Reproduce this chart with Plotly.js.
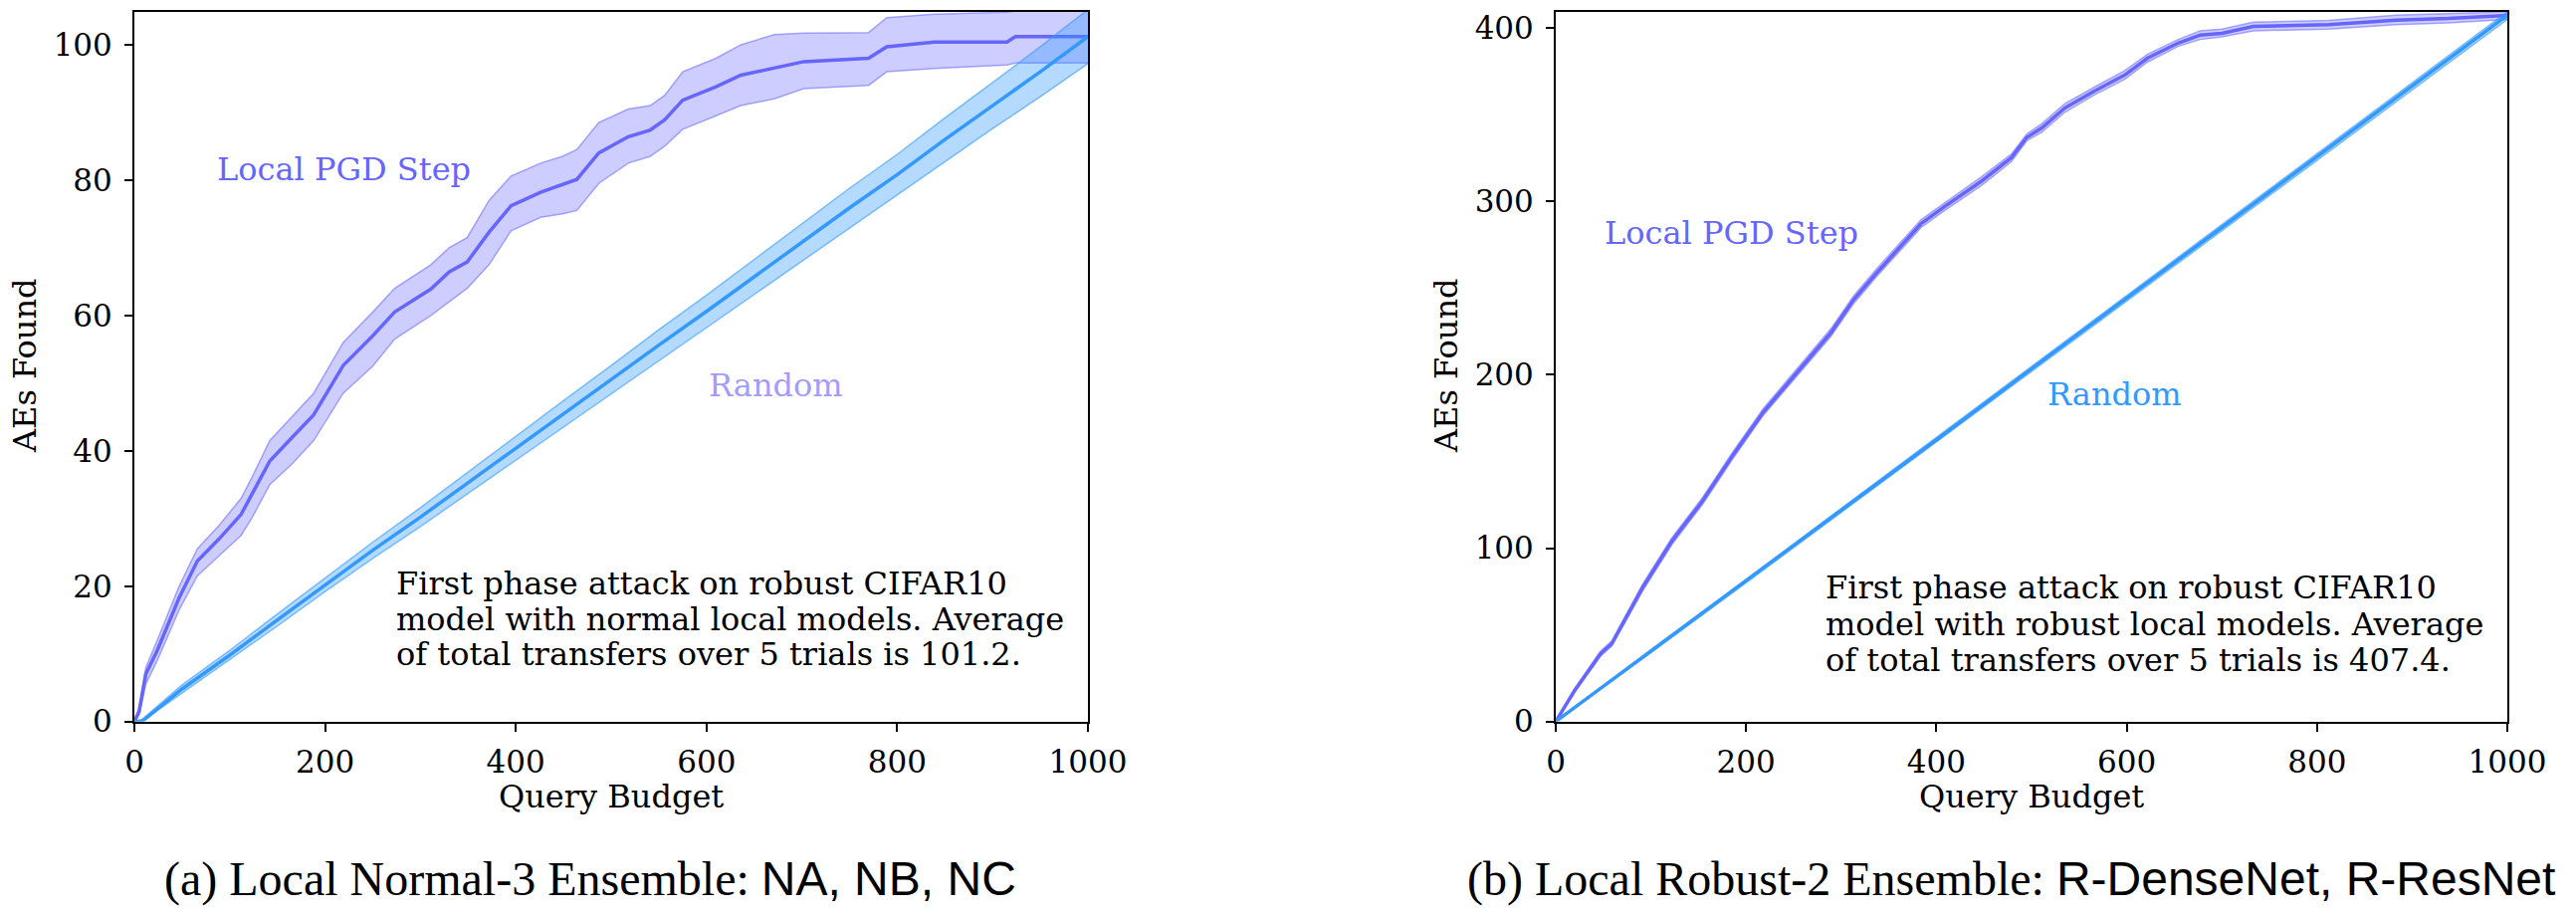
<!DOCTYPE html>
<html>
<head>
<meta charset="utf-8">
<script src="https://cdn.plot.ly/plotly-3.0.1.min.js"></script>
<style>
  html, body { margin: 0; padding: 0; background: #ffffff; }
  #chart { width: 2588px; height: 920px; }
</style>
</head>
<body>
<div id="chart"></div>
<script>
// ---------- Panel (a): Local Normal-3 Ensemble ----------
const pgdA_x     = [0, 5, 12, 24, 47, 66, 89, 112, 123, 142, 165, 188, 219, 250, 273, 311, 330, 349, 372, 395, 426, 449, 464, 487, 518, 541, 556, 575, 610, 636, 671, 702, 770, 789, 839, 915, 924, 1000];
const pgdA_mean  = [0, 1.5, 7, 10.5, 18.3, 23.7, 27, 30.6, 33.5, 38.5, 41.9, 45.3, 52.6, 57, 60.5, 63.9, 66.4, 67.9, 72.3, 76.2, 78.2, 79.4, 80.1, 84, 86.4, 87.4, 88.9, 91.8, 93.8, 95.5, 96.5, 97.5, 98, 99.7, 100.4, 100.4, 101.2, 101.2];
const pgdA_upper = [0, 2, 8, 12, 20, 25.5, 29, 33, 36, 41.5, 45, 48.5, 56, 60.5, 64, 67.5, 70, 71.5, 77, 80.6, 82.5, 83.5, 84.5, 88.5, 90.5, 91, 92.5, 96, 98, 100, 101.5, 101.7, 101.8, 104, 104.5, 104.8, 105, 105];
const pgdA_lower = [0, 1, 5.5, 9, 16.5, 21.5, 24.5, 27.5, 30, 35, 38, 41.5, 48.5, 52.5, 56.5, 60, 62, 64, 67.5, 72.5, 74.5, 75, 75.5, 79.5, 82.5, 83.5, 85, 87.5, 89.5, 91, 92, 93.5, 94, 96, 96.5, 97, 97.3, 97.3];

const rndA_x     = [0, 8, 50, 100, 150, 200, 250, 300, 350, 400, 450, 500, 550, 600, 650, 700, 750, 800, 850, 900, 950, 1000];
const rndA_mean  = [0, 0, 4.8, 9.8, 15, 20.2, 25.3, 30.2, 35.3, 40.4, 45.5, 50.5, 55.6, 60.6, 65.7, 70.8, 75.9, 80.8, 86, 91, 96, 101.2];
const rndA_upper = [0, 0.3, 5.4, 10.5, 15.9, 21.2, 26.5, 31.6, 36.9, 42.2, 47.4, 52.6, 57.9, 63, 68.3, 73.5, 78.8, 83.8, 89.2, 94.4, 99.7, 105.2];
const rndA_lower = [0, 0, 4.2, 9.1, 14.1, 19.2, 24.1, 28.8, 33.7, 38.6, 43.6, 48.4, 53.3, 58.2, 63.1, 68.1, 73, 77.8, 82.8, 87.6, 92.3, 97.2];

// ---------- Panel (b): Local Robust-2 Ensemble ----------
const pgdB_x     = [0, 20, 47, 59, 91, 122, 154, 186, 218, 262, 289, 313, 337, 384, 408, 448, 479, 495, 511, 535, 566, 598, 622, 654, 677, 700, 733, 812, 883, 938, 1000];
const pgdB_mean  = [0, 18, 39, 45, 77, 104, 127, 153.5, 178.4, 207, 224.2, 243.3, 258.6, 287.3, 296.8, 312, 325.4, 337, 342.6, 354, 363.7, 373, 382.8, 391.4, 396, 397, 401, 402, 404.7, 405.6, 407.4];
const pgdB_upper = [0, 19, 40.5, 46.5, 79, 106, 129, 155.5, 180.5, 209, 226.5, 245.5, 261, 289.5, 299, 314.5, 327.5, 339, 345, 356.5, 366, 375.5, 385, 393.5, 398.5, 399.5, 403.5, 404.5, 407.5, 408.5, 409.5];
const pgdB_lower = [0, 17, 37.5, 43.5, 75, 102, 125, 151.5, 176.5, 205, 222, 241, 256.5, 285, 294.5, 309.5, 323, 335, 340, 351.5, 361.5, 370.5, 380.5, 389.5, 393.5, 395, 398.5, 399.5, 402, 403, 405];

const rndB_x     = [0, 100, 200, 300, 400, 500, 600, 700, 800, 900, 1000];
const rndB_mean  = [0, 40.5, 81, 121.8, 162.5, 203.5, 244.3, 285, 325.9, 366.6, 407.4];
const rndB_upper = [0, 41.3, 82, 123, 164, 205, 246, 287, 328, 369, 409.5];
const rndB_lower = [0, 39.6, 80, 120.6, 161, 202, 242.6, 283, 323.8, 364.3, 405];

// ---------- Texts ----------
const xTickVals = [0, 200, 400, 600, 800, 1000];
const yTickValsA = [0, 20, 40, 60, 80, 100];
const yTickValsB = [0, 100, 200, 300, 400];
const xLabel = "Query Budget";
const yLabel = "AEs Found";
const pgdName = "Local PGD Step";
const rndName = "Random";
const noteA = ["First phase attack on robust CIFAR10", "model with normal local models. Average", "of total transfers over 5 trials is 101.2."];
const noteB = ["First phase attack on robust CIFAR10", "model with robust local models. Average", "of total transfers over 5 trials is 407.4."];
const captionA = ["(a) Local Normal-3 Ensemble: ", "NA, NB, NC"];
const captionB = ["(b) Local Robust-2 Ensemble: ", "R-DenseNet, R-ResNet"];

// ---------- Styles ----------
const PGD = "#6666ff", PGD_FILL = "rgba(102,102,255,0.33)", PGD_EDGE = "rgba(102,102,255,0.55)";
const RND = "#3399ff", RND_FILL = "rgba(51,153,255,0.36)", RND_EDGE = "rgba(51,153,255,0.6)";
const SERIF = "DejaVu Serif";

function band(x, lo, hi, fill, edge, xa, ya) {
  return [
    {x: x, y: lo, xaxis: xa, yaxis: ya, type: "scatter", mode: "lines",
     line: {color: edge, width: 1.5}, hoverinfo: "skip", showlegend: false},
    {x: x, y: hi, xaxis: xa, yaxis: ya, type: "scatter", mode: "lines",
     fill: "tonexty", fillcolor: fill,
     line: {color: edge, width: 1.5}, hoverinfo: "skip", showlegend: false}
  ];
}
function meanLine(x, y, color, xa, ya, name) {
  return {x: x, y: y, xaxis: xa, yaxis: ya, type: "scatter", mode: "lines",
          name: name, line: {color: color, width: 3.5}, showlegend: false};
}

const traces = [].concat(
  band(pgdA_x, pgdA_lower, pgdA_upper, PGD_FILL, PGD_EDGE, "x", "y"),
  [meanLine(pgdA_x, pgdA_mean, PGD, "x", "y", pgdName)],
  band(rndA_x, rndA_lower, rndA_upper, RND_FILL, RND_EDGE, "x", "y"),
  [meanLine(rndA_x, rndA_mean, RND, "x", "y", rndName)],
  band(pgdB_x, pgdB_lower, pgdB_upper, PGD_FILL, PGD_EDGE, "x2", "y2"),
  [meanLine(pgdB_x, pgdB_mean, PGD, "x2", "y2", pgdName)],
  band(rndB_x, rndB_lower, rndB_upper, RND_FILL, RND_EDGE, "x2", "y2"),
  [meanLine(rndB_x, rndB_mean, RND, "x2", "y2", rndName)]
);

const W = 2588, H = 920;
const yDom = [1 - 724.6 / H, 1 - 11.6 / H];

function xAxis(domain, anchor) {
  return {domain: domain, anchor: anchor, range: [0, 1000], tickmode: "array", tickvals: xTickVals,
          ticks: "outside", ticklen: 8, tickwidth: 2, tickcolor: "#000",
          showline: true, linewidth: 2, linecolor: "#000", mirror: true,
          showgrid: false, zeroline: false, ticklabelstandoff: 4,
          tickfont: {family: SERIF, size: 31, color: "#000"}};
}
function yAxis(range, tickvals, anchor) {
  return {domain: yDom, anchor: anchor, range: range, tickmode: "array", tickvals: tickvals,
          ticks: "outside", ticklen: 8, tickwidth: 2, tickcolor: "#000",
          showline: true, linewidth: 2, linecolor: "#000", mirror: true,
          showgrid: false, zeroline: false, ticklabelstandoff: 6,
          tickfont: {family: SERIF, size: 31, color: "#000"}};
}

const ann = [];
function txt(text, x, y, xref, yref, opts) {
  ann.push(Object.assign({text: text, x: x, y: y, xref: xref, yref: yref, showarrow: false,
    font: {family: SERIF, size: 32, color: "#000"}, xanchor: "center", yanchor: "middle"}, opts || {}));
}
// axis titles
txt(yLabel, 25 / W, 1 - 368 / H, "paper", "paper", {textangle: -90});
txt(yLabel, 1453 / W, 1 - 368 / H, "paper", "paper", {textangle: -90});
txt(xLabel, 614 / W, 1 - 800 / H, "paper", "paper");
txt(xLabel, 2041 / W, 1 - 800 / H, "paper", "paper");
// series labels
txt(pgdName, 84.5, 81.6, "x", "y", {xanchor: "left", font: {family: SERIF, size: 32, color: PGD}});
txt(rndName, 600, 49.6, "x", "y", {xanchor: "left", font: {family: SERIF, size: 32, color: "#a39cfb"}});
txt(pgdName, 49, 281.7, "x2", "y2", {xanchor: "left", font: {family: SERIF, size: 32, color: PGD}});
txt(rndName, 514.6, 188.9, "x2", "y2", {xanchor: "left", font: {family: SERIF, size: 32, color: RND}});
// notes
const noteAy = [20.4, 15.1, 9.9];
const noteBy = [77.1, 55.9, 35.3];
noteA.forEach((t, i) => txt(t, 272.4, noteAy[i], "x", "y", {xanchor: "left"}));
noteB.forEach((t, i) => txt(t, 281, noteBy[i], "x2", "y2", {xanchor: "left"}));
// captions
function caption(parts, xpx) {
  txt(parts[0] + '<span style="font-family:Liberation Sans">' + parts[1] + '</span>',
      xpx / W, 1 - 883 / H, "paper", "paper",
      {xanchor: "left", font: {family: "Liberation Serif", size: 48, color: "#000"}});
}
caption(captionA, 163);
caption(captionB, 1472);

const layout = {
  width: W, height: H,
  margin: {l: 0, r: 0, t: 0, b: 0},
  paper_bgcolor: "#fff", plot_bgcolor: "#fff",
  showlegend: false,
  xaxis: xAxis([135 / W, 1093 / W], "y"),
  yaxis: yAxis([0, 104.9], yTickValsA, "x"),
  xaxis2: xAxis([1563 / W, 2519 / W], "y2"),
  yaxis2: yAxis([0, 409.6], yTickValsB, "x2"),
  annotations: ann
};

Plotly.newPlot("chart", traces, layout, {staticPlot: true, displayModeBar: false});
</script>
</body>
</html>
